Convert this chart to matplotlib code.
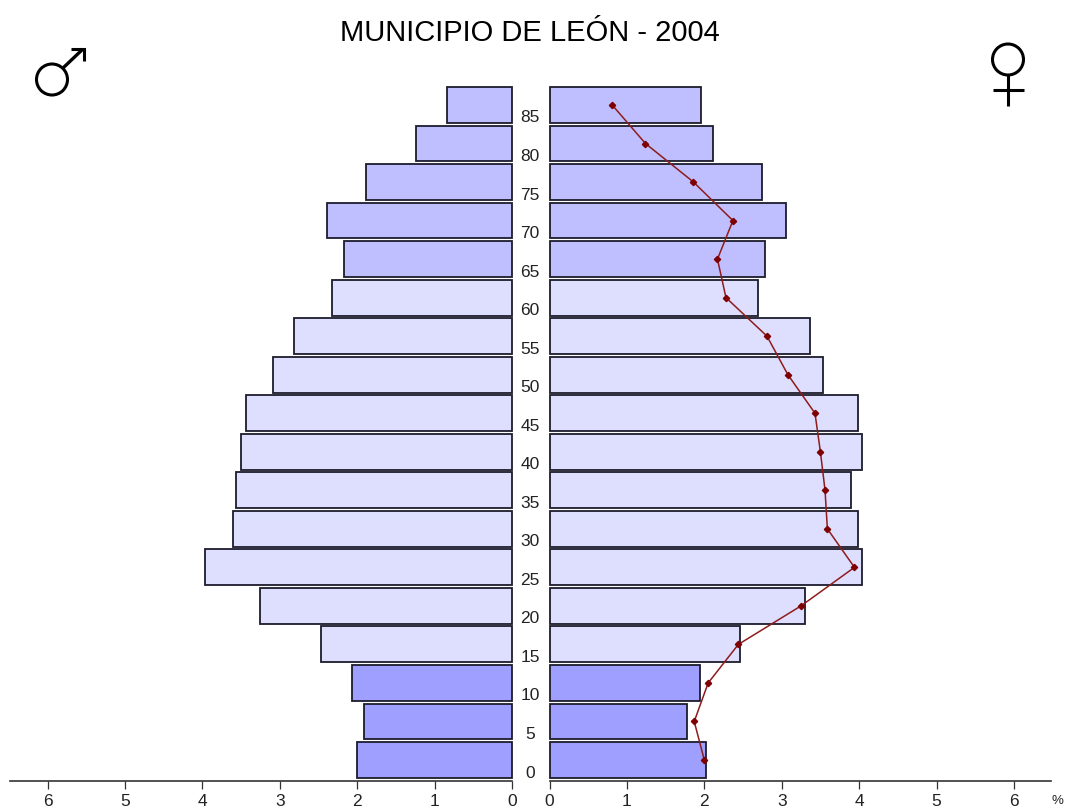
import matplotlib
matplotlib.use('Agg')
from matplotlib import pyplot as plt
from matplotlib.patches import Circle

plt.rcParams['font.family'] = ['Liberation Sans', 'DejaVu Sans']

# age groups, bottom to top
ages = [0, 5, 10, 15, 20, 25, 30, 35, 40, 45, 50, 55, 60, 65, 70, 75, 80, 85]
male = [2.00, 1.91, 2.07, 2.47, 3.26, 3.96, 3.61, 3.57, 3.50, 3.44, 3.09, 2.82, 2.32, 2.17, 2.39, 1.89, 1.24, 0.84]
female = [2.02, 1.78, 1.95, 2.46, 3.30, 4.04, 3.98, 3.90, 4.04, 3.98, 3.53, 3.37, 2.70, 2.79, 3.06, 2.75, 2.11, 1.96]
# reference line drawn over the female side
line_vals = [2.00, 1.87, 2.05, 2.44, 3.25, 3.94, 3.59, 3.56, 3.50, 3.43, 3.08, 2.81, 2.28, 2.17, 2.37, 1.86, 1.24, 0.81]
xtick_vals = [0, 1, 2, 3, 4, 5, 6]
title = 'MUNICIPIO DE LEÓN - 2004'

W, H = 1066, 808
c_young = '#9f9fff'
c_adult = '#dedeff'
c_old = '#bfbfff'
c_edge = '#1c1c2c'
c_line = '#8e1c1c'
c_mark = '#7f0000'


def colour(age):
    if age < 15:
        return c_young
    if age < 65:
        return c_adult
    return c_old


def make_ax(x0, x1):
    # pixel box to figure fractions, y0 = axis line, y1 = top of plot area
    y_axis, y_top = 781, 70
    return fig.add_axes([x0 / W, 1 - y_axis / H, (x1 - x0) / W, (y_axis - y_top) / H])


fig = plt.figure(figsize=(W / 100, H / 100), dpi=100, facecolor='white')
ax_l = make_ax(10, 512)
ax_r = make_ax(549.5, 1051)

px_unit = 77.4
pitch = 38.53
colors = [colour(a) for a in ages]

for ax, vals in [(ax_l, male), (ax_r, female)]:
    ax.barh(range(len(ages)), vals, height=0.93, color=colors, edgecolor=c_edge, linewidth=1.3, clip_on=False)
    ax.set_ylim(-21 / pitch, (760 - 70) / pitch)
    for s in ['top', 'left', 'right']:
        ax.spines[s].set_visible(False)
    ax.spines['bottom'].set_color('#333333')
    ax.spines['bottom'].set_linewidth(1.2)
    ax.set_yticks([])
    ax.set_xticks(xtick_vals)
    ax.tick_params(axis='x', length=6, width=0.9, color='#333333', labelsize=12.5, pad=3, labelcolor='#222222')
    ax.patch.set_alpha(0)

ax_l.set_xlim(502 / px_unit, 0)
ax_r.set_xlim(0, 501.5 / px_unit)

ax_r.plot(line_vals, range(len(ages)), color=c_line, linewidth=1.1, marker='D', ms=3.2,
          mfc=c_mark, mec=c_mark, clip_on=False, zorder=5)

# overlay in pixel coordinates for the title, age labels and sex symbols
ov = fig.add_axes([0, 0, 1, 1])
ov.set_xlim(0, W)
ov.set_ylim(H, 0)
ov.axis('off')
ov.patch.set_alpha(0)

ov.text(530, 33, title, ha='center', va='center', fontsize=21, color='black')
for i, a in enumerate(ages):
    ov.text(530, 773 - i * pitch, str(a), ha='center', va='center', fontsize=12.5, color='#222222')
ov.text(1057, 801, '%', ha='center', va='center', fontsize=9.5, color='#222222')

# male symbol
ov.add_patch(Circle((52, 79.5), 15.5, fill=False, ec='black', lw=2.2))
ov.plot([63, 83], [68, 49], color='black', lw=2.4, solid_capstyle='butt')
ov.plot([71, 84, 84], [49, 49, 61], color='black', lw=2.2, solid_joinstyle='miter', solid_capstyle='butt')

# female symbol
ov.add_patch(Circle((1008, 59.5), 15.5, fill=False, ec='black', lw=2.2))
ov.plot([1008, 1008], [75, 106], color='black', lw=2.2, solid_capstyle='butt')
ov.plot([993, 1024], [90, 90], color='black', lw=2.2, solid_capstyle='butt')

fig.savefig('out.png', dpi=100)
